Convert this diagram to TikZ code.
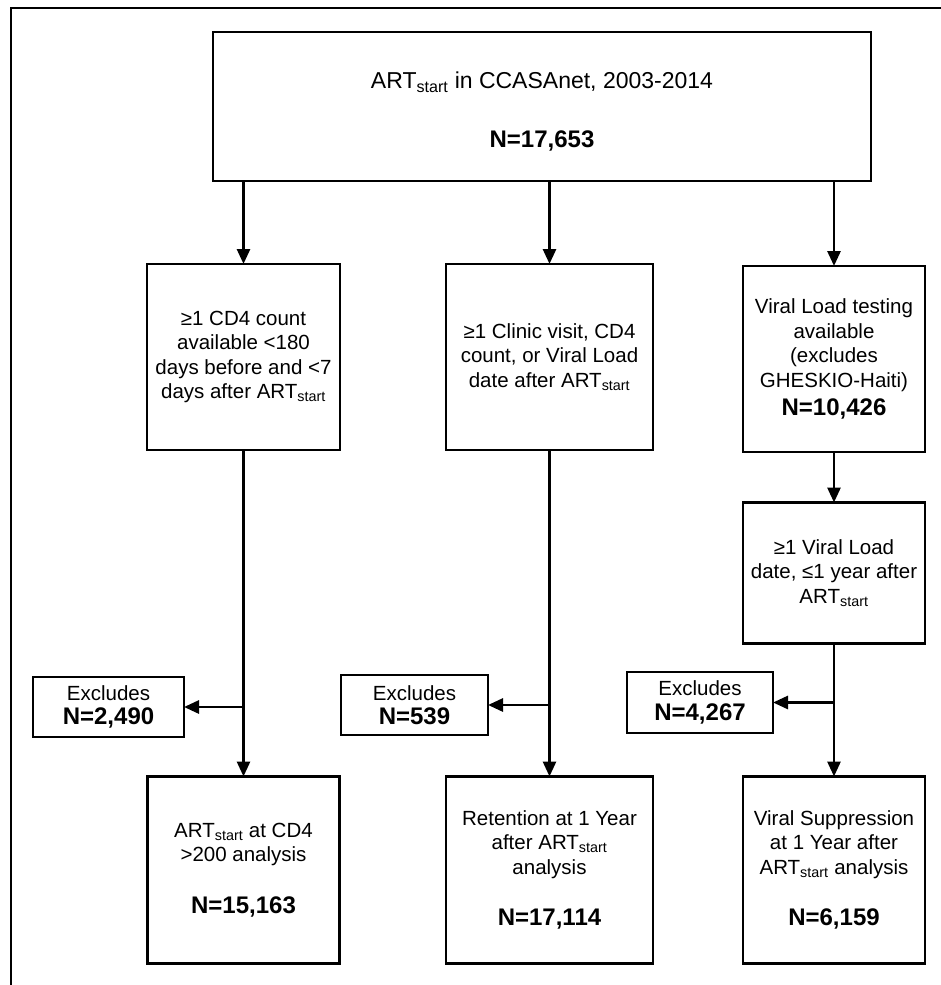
\documentclass[tikz,border=0pt]{standalone}
\usepackage{fontspec}
\setmainfont{Liberation Sans}
\usetikzlibrary{arrows.meta,positioning}
\newcommand{\ARTs}{ART\textsubscript{start}}
\newcommand{\Nbold}[1]{{\fontsize{24}{28}\selectfont\bfseries #1}}

\begin{document}
\begin{tikzpicture}[x=1pt, y=-1pt,
  box/.style={draw, line width=2.8pt, align=center, inner sep=0pt, outer sep=0pt,
    font=\fontsize{20.5}{24.5}\selectfont},
  arr/.style={line width=2.8pt, -{Triangle[length=15pt,width=13pt]}}]
\useasboundingbox (0,0) rectangle (941,985);
% frame, top and left only
\draw[line width=2.8pt] (11,987) -- (11,8) -- (943,8);

% Top box
\node[box, minimum width=658pt, minimum height=149pt, font=\fontsize{23}{27}\selectfont] (top) at (542,106.5)
  {\rule{0pt}{27pt}\ARTs{} in CCASAnet, 2003-2014\\[32pt] \Nbold{N=17,653}};

% Second row left to right
\node[box, minimum width=193pt, minimum height=186pt] (cdfour) at (243.5,357)
  {≥1 CD4 count\\available <180\\days before and <7\\days after \ARTs};
\node[box, minimum width=207pt, minimum height=186pt] (visit) at (549.5,357)
  {≥1 Clinic visit, CD4\\count, or Viral Load\\date after \ARTs};
\node[box, minimum width=182pt, minimum height=186pt] (vltest) at (834,359)
  {Viral Load testing\\available\\(excludes\\GHESKIO-Haiti)\\[4pt] \Nbold{N=10,426}};

% Third box on the right
\node[box, minimum width=182pt, minimum height=141pt] (vldate) at (834,573)
  {≥1 Viral Load\\date, ≤1 year after\\\ARTs};

% Excludes boxes left to right
\node[box, minimum width=151pt, minimum height=60pt] (exa) at (108.5,707)
  {Excludes\\\Nbold{N=2,490}};
\node[box, minimum width=147pt, minimum height=60pt] (exb) at (414.5,705)
  {Excludes\\\Nbold{N=539}};
\node[box, minimum width=146pt, minimum height=61pt] (exc) at (700,702.5)
  {Excludes\\\Nbold{N=4,267}};

% Bottom row left to right
\node[box, minimum width=192pt, minimum height=187pt] (cdanal) at (243.5,870)
  {\ARTs{} at CD4\\>200 analysis\\[27pt] \Nbold{N=15,163}};
\node[box, minimum width=207pt, minimum height=187pt] (retanal) at (549.5,870)
  {Retention at 1 Year\\after \ARTs\\analysis\\[27pt] \Nbold{N=17,114}};
\node[box, minimum width=182pt, minimum height=187pt] (vsanal) at (834,870)
  {Viral Suppression\\at 1 Year after\\\ARTs{} analysis\\[27pt] \Nbold{N=6,159}};

% Arrows from the top box
\draw[arr] (top.south -| cdfour.north) -- (cdfour.north);
\draw[arr] (top.south -| visit.north) -- (visit.north);
\draw[arr] (top.south -| vltest.north) -- (vltest.north);
\draw[arr] (vltest) -- (vldate);

% Arrows down and to the excludes
\draw[arr] (cdfour) -- (cdanal);
\draw[arr] (cdfour.south |- exa.east) -- (exa.east);
\draw[arr] (visit) -- (retanal);
\draw[arr] (visit.south |- exb.east) -- (exb.east);
\draw[arr] (vldate) -- (vsanal);
\draw[arr] (vldate.south |- exc.east) -- (exc.east);
\end{tikzpicture}
\end{document}
